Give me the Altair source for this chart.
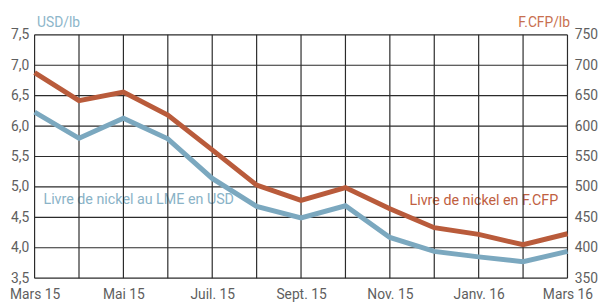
import altair as alt
import pandas as pd

months = ["Mars 15", "Avr. 15", "Mai 15", "Juin 15", "Juil. 15", "Août 15", "Sept. 15",
          "Oct. 15", "Nov. 15", "Déc. 15", "Janv. 16", "Févr. 16", "Mars 16"]
usd_lb = [6.23, 5.80, 6.13, 5.79, 5.14, 4.68, 4.49, 4.69, 4.17, 3.94, 3.85, 3.77, 3.94]
xpf_lb = [688, 642, 656, 618, 561, 503, 478, 499, 464, 433, 422, 405, 423]
left_ticks = [3.5, 4.0, 4.5, 5.0, 5.5, 6.0, 6.5, 7.0, 7.5]
right_ticks = [350, 400, 450, 500, 550, 600, 650, 700, 750]
shown_months = months[::2]

FONT = "Roboto, sans-serif"
BLUE = "#7ba8bf"
ORANGE = "#b95b3b"
GRID = "#2b2b2b"
LABEL = "#5e5e5e"

df = pd.DataFrame({"month": months, "usd": usd_lb, "xpf": xpf_lb})
vgrid = pd.DataFrame({"month": months})
hgrid = pd.DataFrame({"v": left_ticks})
notes = pd.DataFrame({
    "month": ["Mars 15", "Nov. 15"],
    "v": [4.78, 4.76],
    "text": ["Livre de nickel au LME en USD", "Livre de nickel en F.CFP"],
    "series": ["usd", "xpf"],
})

xscale = alt.Scale(type="point", padding=0, domain=months)
xenc = alt.X("month:O", sort=months, scale=xscale,
             axis=alt.Axis(values=shown_months, labelAngle=0, title=None,
                           labelFontSize=14, labelColor=LABEL, labelFont=FONT,
                           labelPadding=10, domain=False, ticks=False, grid=False))
yleft_scale = alt.Scale(domain=[3.5, 7.5], nice=False, zero=False)
yleft_axis = alt.Axis(values=left_ticks, orient="left", title="USD/lb",
                      labelExpr="replace(format(datum.value, '.1f'), '.', ',')",
                      labelFontSize=14, labelColor=LABEL, labelFont=FONT, labelPadding=6,
                      titleAngle=0, titleAlign="left", titleBaseline="alphabetic",
                      titleX=2, titleY=-8, titleFontSize=14, titleFontWeight="normal",
                      titleColor="#8db6ca", titleFont=FONT,
                      domain=False, ticks=False, grid=False)
yright_scale = alt.Scale(domain=[350, 750], nice=False, zero=False)
yright_axis = alt.Axis(values=right_ticks, orient="right", title="F.CFP/lb",
                       labelFontSize=14, labelColor=LABEL, labelFont=FONT, labelPadding=7,
                       titleAngle=0, titleAlign="right", titleBaseline="alphabetic",
                       titleX=2, titleY=-8, titleFontSize=14, titleFontWeight="normal",
                       titleColor="#c86f4f", titleFont=FONT,
                       domain=False, ticks=False, grid=False)

note_blue = alt.Chart(notes[notes.series == "usd"]).mark_text(
    align="left", baseline="middle", dx=9, fontSize=14.5, font=FONT, color="#8ab3c7"
).encode(x=xenc, y=alt.Y("v:Q", scale=yleft_scale, axis=yleft_axis), text="text:N")

note_orange = alt.Chart(notes[notes.series == "xpf"]).mark_text(
    align="left", baseline="middle", dx=20, fontSize=14.5, font=FONT, color="#c0603f"
).encode(x=xenc, y=alt.Y("v:Q", scale=yleft_scale, axis=yleft_axis), text="text:N")

vrules = alt.Chart(vgrid).mark_rule(color=GRID, strokeWidth=1.2).encode(x=xenc)
hrules = alt.Chart(hgrid).mark_rule(color=GRID, strokeWidth=1.2).encode(
    y=alt.Y("v:Q", scale=yleft_scale, axis=yleft_axis))

blue_line = alt.Chart(df).mark_line(color=BLUE, strokeWidth=5, strokeJoin="miter").encode(
    x=xenc, y=alt.Y("usd:Q", scale=yleft_scale, axis=yleft_axis))

left = alt.layer(note_blue, note_orange, vrules, hrules, blue_line)

orange_line = alt.Chart(df).mark_line(color=ORANGE, strokeWidth=5, strokeJoin="miter").encode(
    x=xenc, y=alt.Y("xpf:Q", scale=yright_scale, axis=yright_axis))

chart = alt.layer(left, orange_line).resolve_scale(y="independent").properties(
    width=541, height=247,
    autosize=alt.AutoSizeParams(type="none"),
    padding={"left": 27, "top": 25, "right": 32, "bottom": 26},
    background="white",
).configure_view(stroke=None)

chart.save("out.html", embed_options={"renderer": "svg", "actions": False})
